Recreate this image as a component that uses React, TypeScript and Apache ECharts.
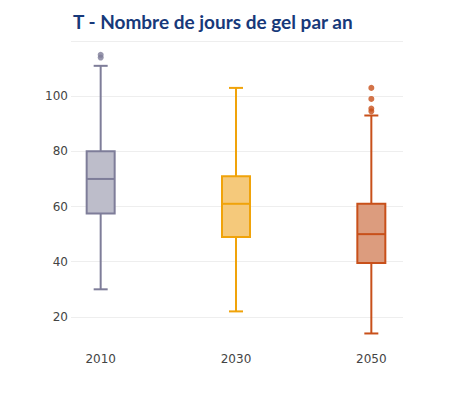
import React, { useEffect, useRef } from "react";
import * as echarts from "echarts";

const categories = ["2010", "2030", "2050"];
// [low whisker, Q1, median, Q3, high whisker]
const boxStats = [
  [30, 57.5, 70, 80, 111],
  [22, 49, 61, 71, 103],
  [14, 39.5, 50, 61, 93],
];
const outliers2010 = [114, 115];
const outliers2030: number[] = [];
const outliers2050 = [94.5, 95.5, 99, 103];
const strokeColors = ["#7e7d99", "#f0a30a", "#c8501a"];
const fillColors = ["#bdbdca", "#f5c97b", "#dc9c7e"];
const titleText = "T - Nombre de jours de gel par an";

export default function App() {
  const ref = useRef<HTMLDivElement>(null);
  useEffect(() => {
    if (!ref.current) return;
    const chart = echarts.init(ref.current, null, { renderer: "svg" });
    const boxData = boxStats.map((s, i) => [i, ...s]);
    const outlierData: any[] = [];
    [outliers2010, outliers2030, outliers2050].forEach((arr, i) => {
      arr.forEach((v) =>
        outlierData.push({ value: [i, v], itemStyle: { color: strokeColors[i] } })
      );
    });
    const top = 41;
    const bottom = 49.5;
    chart.setOption({
      animation: false,
      title: {
        text: titleText,
        left: 73,
        top: 12,
        padding: 0,
        textStyle: {
          fontFamily: "Lato",
          fontWeight: "bold",
          fontSize: 19,
          color: "#17397a",
        },
      },
      grid: [
        { left: 71, right: 47, top, bottom },
        { left: 33, right: 11, top, bottom },
      ],
      xAxis: [
        { type: "category", gridIndex: 0, data: categories, show: false },
        {
          type: "category",
          gridIndex: 1,
          data: categories,
          axisLine: { show: false },
          axisTick: { show: false },
          axisLabel: {
            margin: 8,
            fontFamily: "DejaVu Sans",
            fontSize: 12,
            color: "#444",
          },
        },
      ],
      yAxis: [
        {
          type: "value",
          gridIndex: 0,
          min: 10,
          max: 120,
          splitNumber: 5,
          axisLine: { show: false },
          axisTick: { show: false },
          axisLabel: {
            margin: 3,
            showMinLabel: false,
            showMaxLabel: false,
            fontFamily: "DejaVu Sans",
            fontSize: 12,
            color: "#444",
          },
          splitLine: {
            showMinLine: false,
            lineStyle: { color: "#eeeeee", width: 1 },
          },
        },
        {
          type: "value",
          gridIndex: 1,
          min: 10,
          max: 120,
          show: false,
          splitLine: { show: false },
        },
      ],
      series: [
        {
          type: "custom",
          xAxisIndex: 1,
          yAxisIndex: 1,
          data: boxData,
          encode: { x: 0, y: [1, 2, 3, 4, 5] },
          renderItem: (params: any, api: any) => {
            const idx = api.value(0);
            const low = api.coord([idx, api.value(1)]);
            const q1 = api.coord([idx, api.value(2)]);
            const med = api.coord([idx, api.value(3)]);
            const q3 = api.coord([idx, api.value(4)]);
            const high = api.coord([idx, api.value(5)]);
            const cx = low[0];
            const bw = 28;
            const cw = 14;
            const stroke = strokeColors[idx];
            const fill = fillColors[idx];
            const ls = { stroke, lineWidth: 2 };
            return {
              type: "group",
              children: [
                { type: "line", shape: { x1: cx, y1: q3[1], x2: cx, y2: high[1] }, style: ls },
                { type: "line", shape: { x1: cx, y1: q1[1], x2: cx, y2: low[1] }, style: ls },
                { type: "line", shape: { x1: cx - cw / 2, y1: high[1], x2: cx + cw / 2, y2: high[1] }, style: ls },
                { type: "line", shape: { x1: cx - cw / 2, y1: low[1], x2: cx + cw / 2, y2: low[1] }, style: ls },
                {
                  type: "rect",
                  shape: { x: cx - bw / 2, y: q3[1], width: bw, height: q1[1] - q3[1] },
                  style: { fill, stroke, lineWidth: 2 },
                },
                { type: "line", shape: { x1: cx - bw / 2, y1: med[1], x2: cx + bw / 2, y2: med[1] }, style: ls },
              ],
            };
          },
        },
        {
          type: "scatter",
          xAxisIndex: 1,
          yAxisIndex: 1,
          symbolSize: 6,
          data: outlierData,
        },
      ],
    });
    return () => chart.dispose();
  }, []);
  return <div ref={ref} style={{ width: 450, height: 394, margin: -8 }} />;
}
